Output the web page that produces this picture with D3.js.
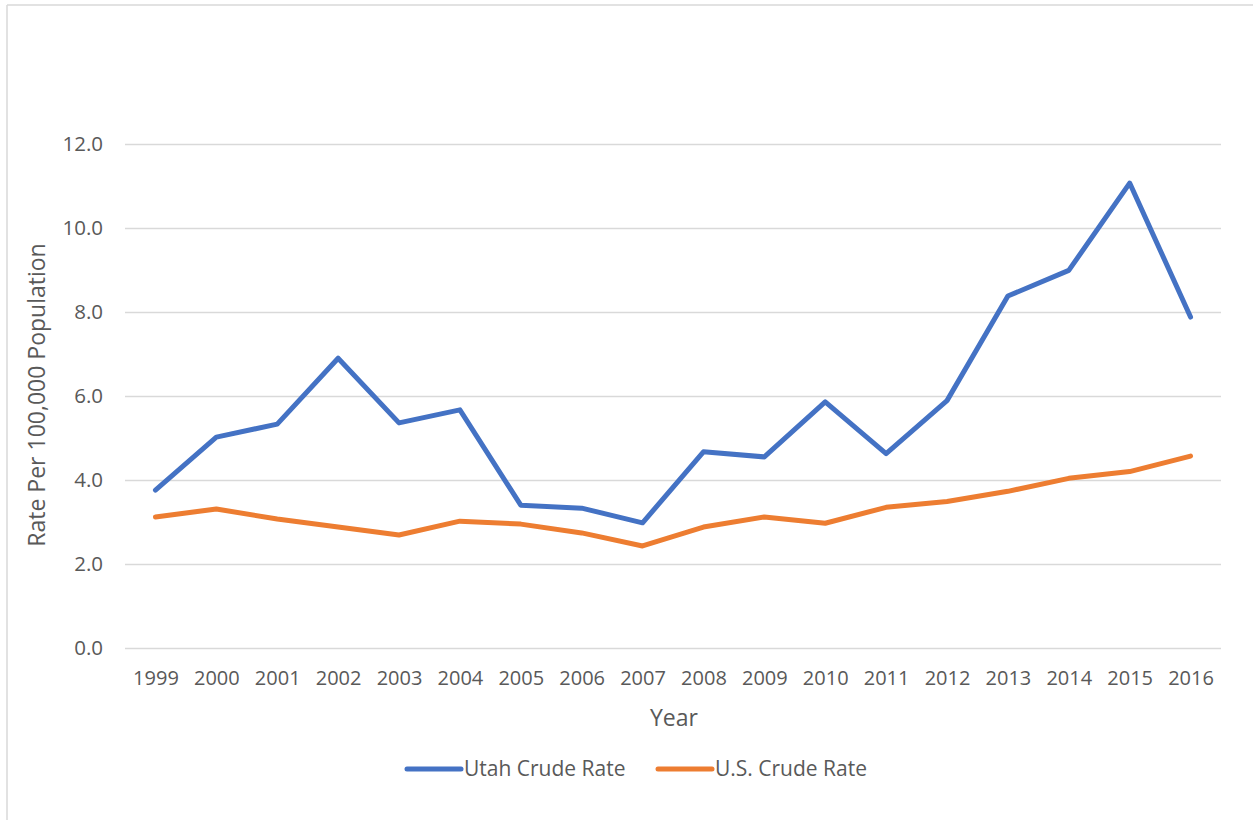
<!DOCTYPE html>
<html>
<head>
<meta charset="utf-8">
<script src="https://cdn.jsdelivr.net/npm/d3@7"></script>
<style>
  body { margin: 0; background: #fff; }
  svg text { font-family: "Open Sans", Lato, sans-serif; fill: #595959; }
</style>
</head>
<body>
<svg id="chart"></svg>
<script>
var years = ["1999","2000","2001","2002","2003","2004","2005","2006","2007","2008","2009","2010","2011","2012","2013","2014","2015","2016"];
var utahRate = [3.76, 5.02, 5.33, 6.90, 5.36, 5.67, 3.40, 3.33, 2.98, 4.67, 4.55, 5.86, 4.63, 5.89, 8.38, 8.99, 11.07, 7.88];
var usRate = [3.12, 3.31, 3.07, 2.88, 2.69, 3.02, 2.95, 2.74, 2.43, 2.88, 3.12, 2.97, 3.35, 3.49, 3.73, 4.04, 4.20, 4.57];
var yTicks = [0, 2, 4, 6, 8, 10, 12];

var W = 1253, H = 820;
var margin = {top: 144, right: 32, bottom: 172, left: 125};
var width = W - margin.left - margin.right,
    height = H - margin.top - margin.bottom;

var svg = d3.select("#chart").attr("width", W).attr("height", H);

// chart frame (only top and left edges show)
svg.append("line").attr("x1", 7).attr("x2", W).attr("y1", 5).attr("y2", 5)
  .attr("stroke", "#d9d9d9").attr("stroke-width", 1.5);
svg.append("line").attr("x1", 7).attr("x2", 7).attr("y1", 5).attr("y2", H)
  .attr("stroke", "#d9d9d9").attr("stroke-width", 1.5);

var g = svg.append("g").attr("transform", "translate(" + margin.left + "," + margin.top + ")");

var x = d3.scalePoint().domain(years).range([0, width]).padding(0.5);
var y = d3.scaleLinear().domain([0, 12]).range([height, 0]);

// gridlines
g.append("g")
  .call(d3.axisLeft(y).tickValues(yTicks).tickSize(-width).tickFormat(d3.format(".1f")))
  .call(function(a) {
    a.select(".domain").remove();
    a.selectAll(".tick line").attr("stroke", "#d9d9d9").attr("stroke-width", 1.5);
    a.selectAll(".tick text").attr("x", -22).style("font-size", "20.5px");
  });

g.append("g")
  .attr("transform", "translate(0," + height + ")")
  .call(d3.axisBottom(x).tickSize(0))
  .call(function(a) {
    a.select(".domain").remove();
    a.selectAll(".tick text").attr("y", 23).attr("dy", "0.71em").style("font-size", "20px");
  });

// axis titles
svg.append("text")
  .attr("transform", "translate(45," + (margin.top + height / 2 - 1) + ") rotate(-90)")
  .attr("text-anchor", "middle")
  .style("font-size", "23px")
  .text("Rate Per 100,000 Population");

svg.append("text")
  .attr("x", margin.left + width / 2 + 1).attr("y", 726)
  .attr("text-anchor", "middle")
  .style("font-size", "23px")
  .text("Year");

var line = d3.line().x(function(d, i) { return x(years[i]); }).y(function(d) { return y(d); });

var series = [
  {name: "Utah Crude Rate", values: utahRate, color: "#4472C4"},
  {name: "U.S. Crude Rate", values: usRate, color: "#ED7D31"}
];

g.selectAll(".series")
  .data(series.slice().reverse())
  .enter().append("path")
  .attr("class", "series")
  .attr("d", function(d) { return line(d.values); })
  .attr("fill", "none")
  .attr("stroke", function(d) { return d.color; })
  .attr("stroke-width", 5)
  .attr("stroke-linejoin", "round")
  .attr("stroke-linecap", "round");

// legend
var legendX = [407, 658];
var leg = svg.selectAll(".legend")
  .data(series)
  .enter().append("g")
  .attr("class", "legend")
  .attr("transform", function(d, i) { return "translate(" + legendX[i] + ",769)"; });

leg.append("line")
  .attr("x1", 0).attr("x2", 54)
  .attr("stroke", function(d) { return d.color; })
  .attr("stroke-width", 5)
  .attr("stroke-linecap", "round");

leg.append("text")
  .attr("x", 57).attr("dy", "0.35em")
  .style("font-size", "21px")
  .text(function(d) { return d.name; });
</script>
</body>
</html>
